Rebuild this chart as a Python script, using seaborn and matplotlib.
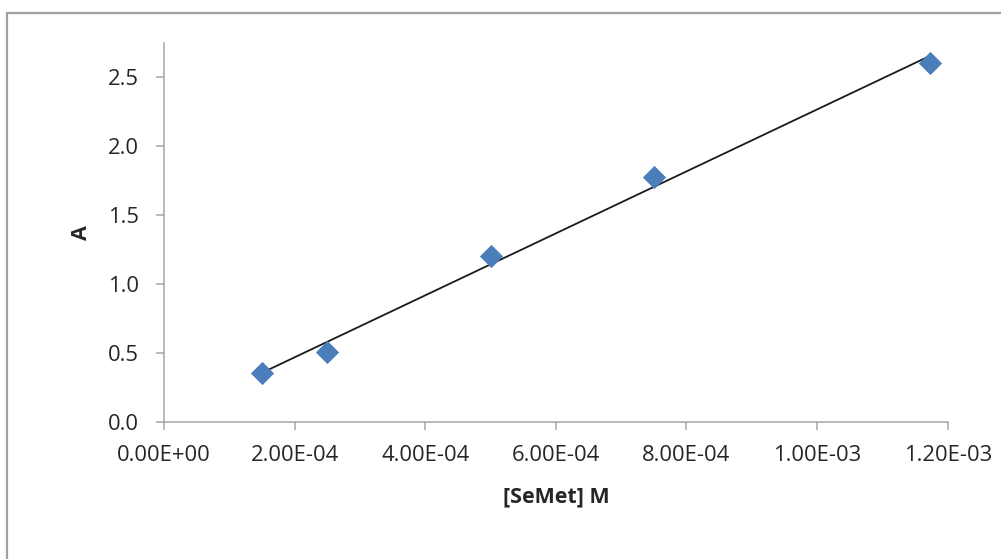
import numpy as np
import pandas as pd
import seaborn as sns
import matplotlib
matplotlib.use("Agg")
import matplotlib.pyplot as plt
from matplotlib.lines import Line2D
from matplotlib.ticker import FuncFormatter

# Calibration data: absorbance vs. selenomethionine concentration
semet_conc = [1.5e-4, 2.5e-4, 5.0e-4, 7.5e-4, 1.173e-3]   # mol/L
absorbance = [0.351, 0.507, 1.20, 1.773, 2.597]

x_ticks = [0.0, 2e-4, 4e-4, 6e-4, 8e-4, 1.0e-3, 1.2e-3]
y_ticks = [0.0, 0.5, 1.0, 1.5, 2.0, 2.5]

df = pd.DataFrame({"conc": semet_conc, "A": absorbance})

sns.set_theme(style="white")
plt.rcParams["font.family"] = ["Open Sans", "DejaVu Sans"]

W, H = 1001, 559
fig = plt.figure(figsize=(W / 100, H / 100), dpi=100)
ax = fig.add_axes([164 / W, 1 - 421.7 / H, (947.7 - 164) / W, (421.7 - 43) / H])

point_color = "#4a7ebb"
sns.regplot(data=df, x="conc", y="A", ax=ax, ci=None, truncate=True,
            marker="D",
            scatter_kws=dict(color=point_color, s=140, linewidths=0,
                             alpha=1, zorder=3),
            line_kws=dict(color="#1a1a1a", lw=1.3, zorder=2))

ax.set_xlim(0, 1.2e-3)
ax.set_ylim(0, 2.745)
ax.set_xticks(x_ticks)
ax.set_yticks(y_ticks)
ax.xaxis.set_major_formatter(FuncFormatter(lambda v, _: "{:.2E}".format(v)))
ax.yaxis.set_major_formatter(FuncFormatter(lambda v, _: f"{v:.1f}"))

axis_gray = "#a6a6a6"
for side in ("top", "right"):
    ax.spines[side].set_visible(False)
for side in ("left", "bottom"):
    ax.spines[side].set_color(axis_gray)
    ax.spines[side].set_linewidth(1.1)
ax.tick_params(axis="both", which="major", direction="out", length=5.8,
               width=1.1, color=axis_gray, labelsize=15.8, labelcolor="#262626",
               bottom=True, left=True)
ax.tick_params(axis="x", pad=11)
ax.tick_params(axis="y", pad=12)

ax.set_xlabel("[SeMet] M", fontsize=15.5, fontweight="bold", color="#262626", labelpad=14.5)
ax.set_ylabel("A", fontsize=15.5, fontweight="bold", color="#262626", labelpad=12)

# chart-area frame
frame = dict(color="#a0a0a0", lw=1.6, transform=fig.transFigure)
fig.add_artist(Line2D([7 / W, 7 / W], [0, 1 - 13 / H], **frame))
fig.add_artist(Line2D([7 / W, 1], [1 - 13 / H, 1 - 13 / H], **frame))

fig.savefig("out.png", dpi=100, facecolor="white")
